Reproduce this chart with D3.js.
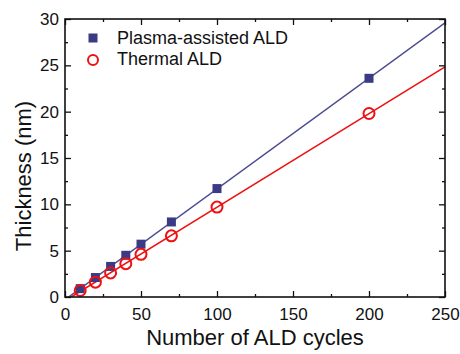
<!DOCTYPE html>
<html>
<head>
<meta charset="utf-8">
<script src="https://cdn.jsdelivr.net/npm/d3@7"></script>
<style>
  html, body { margin: 0; padding: 0; background: #fff; }
  svg { display: block; font-family: "Liberation Sans", Arial, sans-serif; }
</style>
</head>
<body>
<svg id="chart" width="460" height="354"></svg>
<script>
// Film thickness versus number of ALD cycles
const cycles = [10, 20, 30, 40, 50, 70, 100, 200];
const plasmaThickness = [0.9, 2.1, 3.3, 4.5, 5.7, 8.1, 11.7, 23.6];
const thermalThickness = [0.7, 1.6, 2.6, 3.6, 4.6, 6.6, 9.7, 19.8];
const seriesNames = ["Plasma-assisted ALD", "Thermal ALD"];
const xTicks = [0, 50, 100, 150, 200, 250];
const yTicks = [0, 5, 10, 15, 20, 25, 30];

const colors = { plasma: "#3a3a85", plasmaLine: "#4b4b8f", thermal: "#ee1111" };

const svg = d3.select("#chart");
const m = { left: 65, right: 15, top: 19, bottom: 57 };
const W = 460, H = 354;
const x = d3.scaleLinear().domain([0, 250]).range([m.left, W - m.right]);
const y = d3.scaleLinear().domain([0, 30]).range([H - m.bottom, m.top]);

svg.append("clipPath").attr("id", "plotClip")
  .append("rect")
  .attr("x", x(0)).attr("y", y(30))
  .attr("width", x(250) - x(0)).attr("height", y(0) - y(30));

// least-squares fit of each series
function fit(xs, ys) {
  const mx = d3.mean(xs), my = d3.mean(ys);
  const sxy = d3.sum(xs, (v, i) => (v - mx) * (ys[i] - my));
  const sxx = d3.sum(xs, v => (v - mx) * (v - mx));
  const slope = sxy / sxx;
  return { slope, intercept: my - slope * mx };
}

function fitLine(xs, ys, color) {
  const f = fit(xs, ys);
  const x0 = Math.max(0, -f.intercept / f.slope);
  const pts = [[x0, f.intercept + f.slope * x0], [250, f.intercept + f.slope * 250]];
  svg.append("path")
    .attr("clip-path", "url(#plotClip)")
    .attr("d", d3.line().x(d => x(d[0])).y(d => y(d[1]))(pts))
    .attr("fill", "none").attr("stroke", color).attr("stroke-width", 1.5);
}

fitLine(cycles, plasmaThickness, colors.plasmaLine);
fitLine(cycles, thermalThickness, colors.thermal);

// markers
const sq = 9;
svg.append("g").selectAll("rect").data(cycles).join("rect")
  .attr("x", (d) => x(d) - sq / 2)
  .attr("y", (d, i) => y(plasmaThickness[i]) - sq / 2)
  .attr("width", sq).attr("height", sq)
  .attr("fill", colors.plasma);

svg.append("g").selectAll("circle").data(cycles).join("circle")
  .attr("cx", d => x(d))
  .attr("cy", (d, i) => y(thermalThickness[i]))
  .attr("r", 5.5)
  .attr("fill", "none").attr("stroke", colors.thermal).attr("stroke-width", 2);

// axes with inward ticks on all four sides
const xMinor = d3.range(25, 250, 50);
const yMinor = d3.range(2.5, 30, 5);
const axStroke = "#111";

function tickAxis(axis, g) {
  g.call(axis);
  g.select(".domain").remove();
  g.selectAll(".tick line").attr("stroke", axStroke).attr("stroke-width", 1.3);
  g.selectAll(".tick text").attr("fill", "#111").attr("font-size", 17)
    .attr("font-family", "Liberation Sans, Arial, sans-serif");
}

const gB = svg.append("g").attr("transform", `translate(0,${y(0)})`);
tickAxis(d3.axisBottom(x).tickValues(xTicks).tickSize(-6).tickPadding(11), gB);
const gBm = svg.append("g").attr("transform", `translate(0,${y(0)})`);
tickAxis(d3.axisBottom(x).tickValues(xMinor).tickSize(-3).tickFormat(""), gBm);

const gT = svg.append("g").attr("transform", `translate(0,${y(30)})`);
tickAxis(d3.axisTop(x).tickValues(xTicks).tickSize(-6).tickFormat(""), gT);
const gTm = svg.append("g").attr("transform", `translate(0,${y(30)})`);
tickAxis(d3.axisTop(x).tickValues(xMinor).tickSize(-3).tickFormat(""), gTm);

const gL = svg.append("g").attr("transform", `translate(${x(0)},0)`);
tickAxis(d3.axisLeft(y).tickValues(yTicks).tickSize(-6).tickPadding(6), gL);
const gLm = svg.append("g").attr("transform", `translate(${x(0)},0)`);
tickAxis(d3.axisLeft(y).tickValues(yMinor).tickSize(-3).tickFormat(""), gLm);

const gR = svg.append("g").attr("transform", `translate(${x(250)},0)`);
tickAxis(d3.axisRight(y).tickValues(yTicks).tickSize(-6).tickFormat(""), gR);
const gRm = svg.append("g").attr("transform", `translate(${x(250)},0)`);
tickAxis(d3.axisRight(y).tickValues(yMinor).tickSize(-3).tickFormat(""), gRm);

// frame
svg.append("rect")
  .attr("x", x(0)).attr("y", y(30))
  .attr("width", x(250) - x(0)).attr("height", y(0) - y(30))
  .attr("fill", "none").attr("stroke", axStroke).attr("stroke-width", 1.6);

// axis titles
svg.append("text")
  .attr("x", (x(0) + x(250)) / 2).attr("y", 345)
  .attr("text-anchor", "middle").attr("font-size", 22).attr("fill", "#111")
  .text("Number of ALD cycles");

svg.append("text")
  .attr("transform", `translate(31,176) rotate(-90)`)
  .attr("text-anchor", "middle").attr("font-size", 22).attr("fill", "#111")
  .text("Thickness (nm)");

// legend
const leg = svg.append("g");
leg.append("rect").attr("x", 93 - 4.5).attr("y", 38 - 4.5).attr("width", 9).attr("height", 9)
  .attr("fill", colors.plasma);
leg.append("circle").attr("cx", 93).attr("cy", 60).attr("r", 5)
  .attr("fill", "none").attr("stroke", colors.thermal).attr("stroke-width", 2);
leg.append("text").attr("x", 117).attr("y", 44).attr("font-size", 18).attr("fill", "#111")
  .text(seriesNames[0]);
leg.append("text").attr("x", 117).attr("y", 65).attr("font-size", 18).attr("fill", "#111")
  .text(seriesNames[1]);
</script>
</body>
</html>
